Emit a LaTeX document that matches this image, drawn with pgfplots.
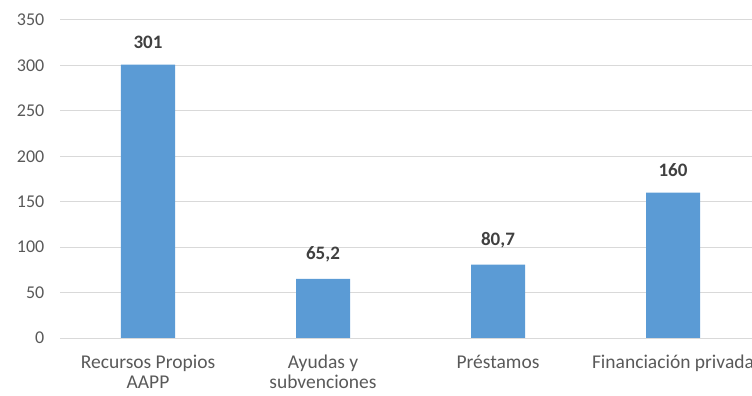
\documentclass[border=0pt]{standalone}
\usepackage{pgfplots}
\pgfplotsset{compat=1.18}
\usepackage{fontspec}
\setmainfont{Carlito}
\definecolor{barblue}{HTML}{5B9BD5}
\definecolor{gridgray}{HTML}{D9D9D9}
\definecolor{ticktext}{HTML}{595959}
\definecolor{labeltext}{HTML}{404040}
\begin{document}
\begin{tikzpicture}
\begin{axis}[
  scale only axis,
  width=700bp, height=318bp,
  xmin=-0.5, xmax=3.5,
  ymin=0, ymax=350,
  ytick={0,50,...,350},
  xtick={0,1,2,3},
  xticklabels={{Recursos Propios\\AAPP},{Ayudas y\\subvenciones},{Préstamos},{Financiación privada}},
  axis y line*=left,
  y axis line style={draw=none},
  axis x line*=bottom,
  x axis line style={gridgray, line width=1bp, -},
  ymajorgrids,
  grid style={gridgray, line width=1bp},
  major tick length=0pt,
  /pgf/number format/assume math mode=true,
  /pgf/number format/use comma,
  /pgf/number format/1000 sep={},
  yticklabel style={font=\fontsize{18bp}{20bp}\selectfont, text=ticktext, anchor=east, inner sep=0pt, xshift=-16bp},
  xticklabel style={font=\fontsize{19.5bp}{19.5bp}\selectfont, text=ticktext, anchor=north, align=center, inner sep=0pt, yshift=-17bp},
  ybar,
  bar width=54bp,
  nodes near coords,
  every node near coord/.append style={font=\fontsize{19bp}{20bp}\selectfont\bfseries, text=labeltext, anchor=south, inner sep=0pt, yshift=16bp},
]
\addplot[fill=barblue, draw=none] coordinates {(0,301) (1,65.2) (2,80.7) (3,160)};
\end{axis}
\pgfresetboundingbox
\useasboundingbox (-60.5bp,-58bp) rectangle (691.5bp,338bp);
\end{tikzpicture}
\end{document}
